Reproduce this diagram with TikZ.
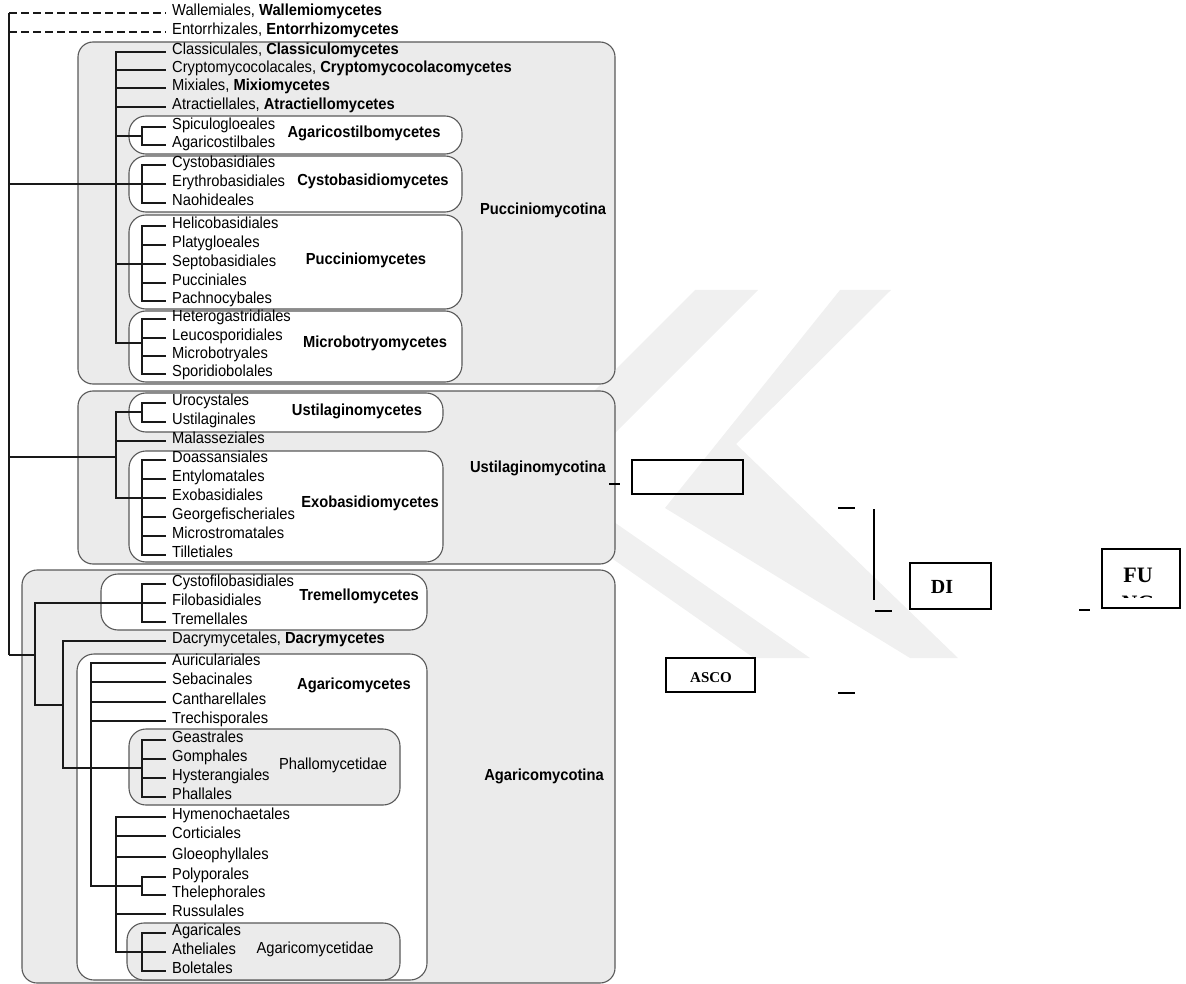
\documentclass[tikz,border=0pt]{standalone}
\usepackage{fontspec}
\setmainfont{Liberation Sans}[FakeStretch=0.92]
\newfontfamily\timesfont{Liberation Serif}
\usetikzlibrary{positioning}

\newcommand{\taxfont}{\fontsize{16}{18}\selectfont}

\tikzset{
  leaf/.style={anchor=mid west, inner xsep=6pt, inner ysep=0pt, font=\taxfont},
  grp/.style={anchor=mid, inner sep=0pt, font=\taxfont\bfseries},
  subgrp/.style={anchor=mid, inner sep=0pt, font=\taxfont},
  branch/.style={line width=1.8pt, draw=black!90},
  ghost/.style={line width=1.2pt, draw=black!90, dash pattern=on 8pt off 4pt},
  subbox/.style={draw=black!65, line width=1.1pt, fill=black!8, rounded corners=15pt},
  classbox/.style={draw=black!65, line width=1.1pt, fill=white, rounded corners=17pt},
  ordbox/.style={draw=black!65, line width=1.1pt, fill=black!8, rounded corners=17pt},
  frag/.style={draw, line width=1.6pt, inner sep=0pt},
  fragtxt/.style={inner sep=0pt, font=\timesfont\bfseries},
  tick/.style={line width=1.4pt},
  mark band/.style={fill=black!6, draw=none}
}

\begin{document}
\begin{tikzpicture}[x=1pt,y=-1pt]
\useasboundingbox (0,0) rectangle (1186,984);

% faint watermark behind everything
\fill[mark band] (695,290) -- (758,290) -- (562,486) -- (810,658) -- (754,658) -- (503,482) -- cycle;
\fill[mark band] (840,290) -- (891,290) -- (736,444) -- (958,658) -- (910,658) -- (665,508) -- cycle;

% subphyla
\draw[subbox] (78,42) rectangle (615,384);
\draw[subbox] (78,391) rectangle (615,564);
\draw[subbox] (22,570) rectangle (615,983);
% classes
\draw[classbox] (129,116) rectangle (462,154);
\draw[classbox] (129,156) rectangle (462,212);
\draw[classbox] (129,215) rectangle (462,309);
\draw[classbox] (129,311) rectangle (462,382);
\draw[classbox] (129,393) rectangle (443,432);
\draw[classbox] (129,451) rectangle (443,562);
\draw[classbox] (101,574) rectangle (427,630);
\draw[classbox] (77,654) rectangle (427,980);
% subclasses
\draw[ordbox] (129,729) rectangle (400,805);
\draw[ordbox] (127,923) rectangle (400,980);

% orders
\node[leaf] (wal) at (166,13) {Wallemiales, \textbf{Wallemiomycetes}};
\node[leaf] (ent) at (166,32) {Entorrhizales, \textbf{Entorrhizomycetes}};
\node[leaf] (cla) at (166,52) {Classiculales, \textbf{Classiculomycetes}};
\node[leaf] (cry) at (166,70) {Cryptomycocolacales, \textbf{Cryptomycocolacomycetes}};
\node[leaf] (mix) at (166,88) {Mixiales, \textbf{Mixiomycetes}};
\node[leaf] (atr) at (166,107) {Atractiellales, \textbf{Atractiellomycetes}};
\node[leaf] (spi) at (166,127) {Spiculogloeales};
\node[leaf] (agl) at (166,145) {Agaricostilbales};
\node[leaf] (cyb) at (166,165) {Cystobasidiales};
\node[leaf] (ery) at (166,184) {Erythrobasidiales};
\node[leaf] (nao) at (166,203) {Naohideales};
\node[leaf] (hel) at (166,226) {Helicobasidiales};
\node[leaf] (pla) at (166,245) {Platygloeales};
\node[leaf] (sep) at (166,264) {Septobasidiales};
\node[leaf] (pcc) at (166,283) {Pucciniales};
\node[leaf] (pac) at (166,301) {Pachnocybales};
\node[leaf] (het) at (166,319) {Heterogastridiales};
\node[leaf] (leu) at (166,338) {Leucosporidiales};
\node[leaf] (mib) at (166,356) {Microbotryales};
\node[leaf] (spo) at (166,374) {Sporidiobolales};
\node[leaf] (uro) at (166,403) {Urocystales};
\node[leaf] (ust) at (166,422) {Ustilaginales};
\node[leaf] (mal) at (166,441) {Malasseziales};
\node[leaf] (doa) at (166,460) {Doassansiales};
\node[leaf] (ety) at (166,479) {Entylomatales};
\node[leaf] (exo) at (166,498) {Exobasidiales};
\node[leaf] (geo) at (166,517) {Georgefischeriales};
\node[leaf] (mcs) at (166,536) {Microstromatales};
\node[leaf] (til) at (166,555) {Tilletiales};
\node[leaf] (cfb) at (166,584) {Cystofilobasidiales};
\node[leaf] (fil) at (166,603) {Filobasidiales};
\node[leaf] (tre) at (166,622) {Tremellales};
\node[leaf] (dac) at (166,641) {Dacrymycetales, \textbf{Dacrymycetes}};
\node[leaf] (aur) at (166,663) {Auriculariales};
\node[leaf] (seb) at (166,682) {Sebacinales};
\node[leaf] (can) at (166,702) {Cantharellales};
\node[leaf] (trc) at (166,721) {Trechisporales};
\node[leaf] (gea) at (166,740) {Geastrales};
\node[leaf] (gom) at (166,759) {Gomphales};
\node[leaf] (hys) at (166,778) {Hysterangiales};
\node[leaf] (pha) at (166,797) {Phallales};
\node[leaf] (hym) at (166,817) {Hymenochaetales};
\node[leaf] (cor) at (166,836) {Corticiales};
\node[leaf] (glo) at (166,857) {Gloeophyllales};
\node[leaf] (pol) at (166,877) {Polyporales};
\node[leaf] (the) at (166,895) {Thelephorales};
\node[leaf] (rus) at (166,914) {Russulales};
\node[leaf] (agr) at (166,933) {Agaricales};
\node[leaf] (ath) at (166,952) {Atheliales};
\node[leaf] (bol) at (166,971) {Boletales};

% group labels
\node[grp] (agsL) at (364,135) {Agaricostilbomycetes};
\node[grp] (cybL) at (373,183) {Cystobasidiomycetes};
\node[grp] (pclL) at (366,262) {Pucciniomycetes};
\node[grp] (mbtL) at (375,345) {Microbotryomycetes};
\node[grp] (pucL) at (543,212) {Pucciniomycotina};
\node[grp] (ustL) at (357,413) {Ustilaginomycetes};
\node[grp] (exL) at (370,505) {Exobasidiomycetes};
\node[grp] (usL) at (538,470) {Ustilaginomycotina};
\node[grp] (treL) at (359,598) {Tremellomycetes};
\node[grp] (agmL) at (354,687) {Agaricomycetes};
\node[subgrp] (phL) at (333,767) {Phallomycetidae};
\node[subgrp] (agdL) at (315,951) {Agaricomycetidae};
\node[grp] (agL) at (544,778) {Agaricomycotina};

% clade nodes
\coordinate (rtop) at (9,13);
\coordinate (rbot) at (9,655);
\coordinate (puc) at (116,184);
\coordinate (agsN) at (142,136);
\coordinate (cybN) at (142,184);
\coordinate (pclN) at (142,264);
\coordinate (mbtN) at (142,343);
\coordinate (usN) at (116,457);
\coordinate (ustN) at (142,412);
\coordinate (exN) at (142,498);
\coordinate (agN) at (35,655);
\coordinate (treN) at (142,603);
\coordinate (lowN) at (63,705);
\coordinate (agmN) at (91,768);
\coordinate (phN) at (142,768);
\coordinate (brN) at (116,886);
\coordinate (polN) at (142,886);
\coordinate (agdN) at (142,952);

% tree
\draw[branch] (rtop) -- (rbot);
\draw[ghost] (rtop) -- (wal.mid west);
\draw[ghost] (rtop |- ent.mid west) -- (ent.mid west);
\draw[branch] (rtop |- puc) -- (puc);
\draw[branch] (rtop |- usN) -- (usN);
\draw[branch] (rbot) -- (agN);

\foreach \l in {cla,cry,mix,atr} \draw[branch] (puc) |- (\l.mid west);
\foreach \c in {agsN,cybN,pclN,mbtN} \draw[branch] (puc) |- (\c);
\foreach \l in {spi,agl} \draw[branch] (agsN) |- (\l.mid west);
\foreach \l in {cyb,ery,nao} \draw[branch] (cybN) |- (\l.mid west);
\foreach \l in {hel,pla,sep,pcc,pac} \draw[branch] (pclN) |- (\l.mid west);
\foreach \l in {het,leu,mib,spo} \draw[branch] (mbtN) |- (\l.mid west);

\draw[branch] (usN) |- (ustN);
\draw[branch] (usN) |- (mal.mid west);
\draw[branch] (usN) |- (exN);
\foreach \l in {uro,ust} \draw[branch] (ustN) |- (\l.mid west);
\foreach \l in {doa,ety,exo,geo,mcs,til} \draw[branch] (exN) |- (\l.mid west);

\draw[branch] (agN) |- (treN);
\draw[branch] (agN) |- (lowN);
\foreach \l in {cfb,fil,tre} \draw[branch] (treN) |- (\l.mid west);
\draw[branch] (lowN) |- (dac.mid west);
\draw[branch] (lowN) |- (agmN);
\foreach \l in {aur,seb,can,trc} \draw[branch] (agmN) |- (\l.mid west);
\draw[branch] (agmN) -- (phN);
\draw[branch] (agmN) |- (brN);
\foreach \l in {gea,gom,hys,pha} \draw[branch] (phN) |- (\l.mid west);
\foreach \l in {hym,cor,glo,rus} \draw[branch] (brN) |- (\l.mid west);
\draw[branch] (brN) -- (polN);
\draw[branch] (brN) |- (agdN);
\foreach \l in {pol,the} \draw[branch] (polN) |- (\l.mid west);
\foreach \l in {agr,ath,bol} \draw[branch] (agdN) |- (\l.mid west);

% loose boxes on the right
\node[frag, minimum width=111pt, minimum height=34pt] (blank) at (687.5,477) {};
\node[frag, minimum width=89pt, minimum height=34pt] (asco) at (710.5,675) {};
\node[fragtxt, font=\timesfont\bfseries\fontsize{15}{16}\selectfont] (ascoT) at (711,678) {ASCO};
\node[frag, minimum width=81pt, minimum height=46pt] (di) at (950.5,586) {};
\node[fragtxt, font=\timesfont\bfseries\fontsize{20}{22}\selectfont] (diT) at (942,587) {DI};
\node[frag, minimum width=78pt, minimum height=59pt] (fu) at (1141,578.5) {};
\node[fragtxt, font=\timesfont\bfseries\fontsize{22}{24}\selectfont] (fuT) at (1138,575) {FU};
\begin{scope}
  \clip (1104,588) rectangle (1178,597.5);
  \node[fragtxt, anchor=north, font=\timesfont\bfseries\fontsize{22}{24}\selectfont] (ngT) at (1138,595.5) {NG};
\end{scope}

% loose ticks
\coordinate (t1a) at (609,484);  \coordinate (t1b) at (620,484);
\coordinate (t2a) at (838,508);  \coordinate (t2b) at (855,508);
\coordinate (v1a) at (874,509);  \coordinate (v1b) at (874,600);
\coordinate (t3a) at (875,611);  \coordinate (t3b) at (892,611);
\coordinate (t4a) at (838,693);  \coordinate (t4b) at (855,693);
\coordinate (t5a) at (1079,610); \coordinate (t5b) at (1090,610);
\draw[tick] (t1a) -- (t1b);
\draw[tick] (t2a) -- (t2b);
\draw[tick] (v1a) -- (v1b);
\draw[tick] (t3a) -- (t3b);
\draw[tick] (t4a) -- (t4b);
\draw[tick] (t5a) -- (t5b);

\end{tikzpicture}
\end{document}
